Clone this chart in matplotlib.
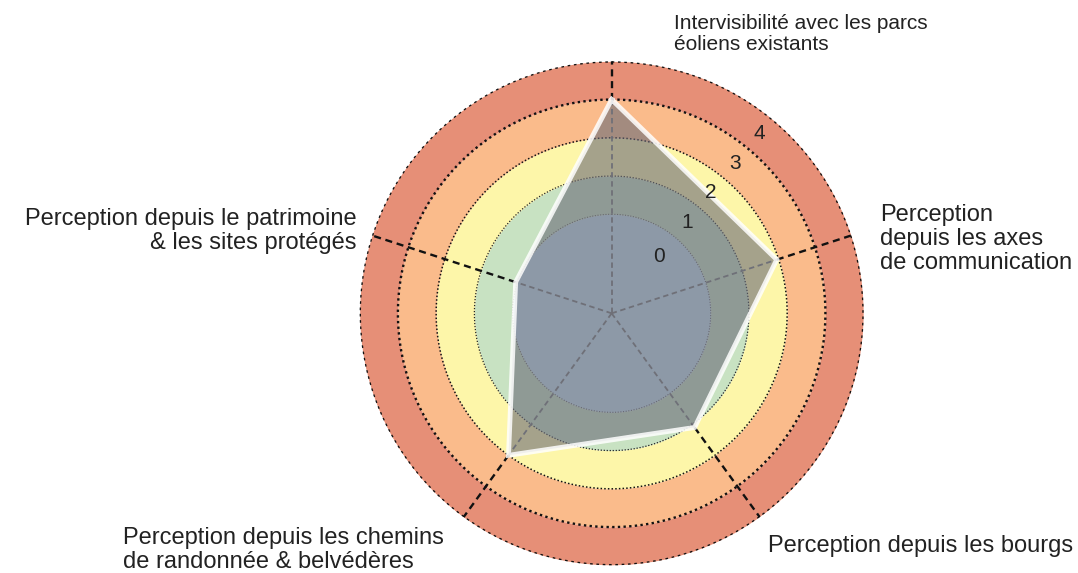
import numpy as np
import matplotlib.pyplot as plt

plt.rcParams['font.family'] = ['Liberation Sans', 'DejaVu Sans']

# ------------------------------------------------------------
# Data
# ------------------------------------------------------------
categories = [
    "Intervisibilité avec les parcs\néoliens existants",
    "Perception\ndepuis les axes\nde communication",
    "Perception depuis les bourgs",
    "Perception depuis les chemins\nde randonnée & belvédères",
    "Perception depuis le patrimoine\n& les sites protégés",
]
scores = [3.5, 2.45, 1.6, 2.5, 0.55]
levels = [0, 1, 2, 3, 4]
band_colors = ["#c3e0ef", "#c8e2c2", "#fdf6a9", "#fabb8b", "#e68f77"]

R_MIN = -2.09       # radial value at the centre
R_MAX = 4.5

W, H = 1078, 573
fig = plt.figure(figsize=(W / 100, H / 100), dpi=100)
ax = fig.add_axes([0.3336, 0.0134, 0.4676, 0.8796], projection="polar")
ax.set_theta_offset(np.pi / 2)
ax.set_theta_direction(-1)
ax.set_ylim(R_MIN, R_MAX)

theta = np.linspace(0, 2 * np.pi, 400)

# coloured bands
for i, (lvl, col) in enumerate(zip(levels, band_colors)):
    lo = R_MIN if i == 0 else lvl - 0.5
    hi = lvl + 0.5
    ax.fill_between(theta, lo, hi, color=col, lw=0, zorder=1)

# dotted ring boundaries
ring_styles = {0.5: (0.8, "#666666"), 1.5: (0.9, "#222222"),
               2.5: (1.1, "#111111"), 3.5: (1.7, "#111111"),
               4.5: (1.9, "#111111")}
for r, (lw, c) in ring_styles.items():
    ax.plot(theta, np.full_like(theta, r), ls=(0, (1, 1.4)), lw=lw,
            color=c, zorder=2)

# spokes: black outside the polygon, grey inside
n = len(categories)
angles = np.linspace(0, 2 * np.pi, n, endpoint=False)
for a, s in zip(angles, scores):
    ax.plot([a, a], [s, R_MAX], ls=(0, (3, 2)), lw=1.7,
            color="#111111", zorder=3)
    ax.plot([a, a], [R_MIN, s], ls=(0, (3, 2)), lw=1.3,
            color="#6f7078", zorder=4.5)

# score polygon
ang_c = np.append(angles, angles[0])
sc_c = np.append(scores, scores[0])
ax.fill(ang_c, sc_c, color="#6a6b78", alpha=0.6, lw=0, zorder=4)
ax.plot(ang_c, sc_c, color="white", lw=3.5, alpha=0.85, zorder=5,
        solid_joinstyle="miter")

# level labels
for lvl in levels:
    r = lvl if lvl > 0 else -0.15
    ax.text(np.deg2rad(39.5), r, str(lvl), fontsize=15,
            ha="center", va="center", color="#222222", zorder=6)

ax.set_xticks([])
ax.set_yticks([])
ax.grid(False)
ax.spines["polar"].set_visible(False)
ax.set_facecolor("none")

# axis labels
label_pos = [
    (674, 34, "left", 15),
    (880, 239, "left", 17),
    (768, 546, "left", 17),
    (123, 550, "left", 17),
    (357, 231, "right", 17),
]
for text, (x, y, ha, fs) in zip(categories, label_pos):
    fig.text(x / W, 1 - y / H, text, fontsize=fs, ha=ha, va="center",
             color="#222222", linespacing=1.1, multialignment=ha)

fig.savefig("out.png", dpi=100)
